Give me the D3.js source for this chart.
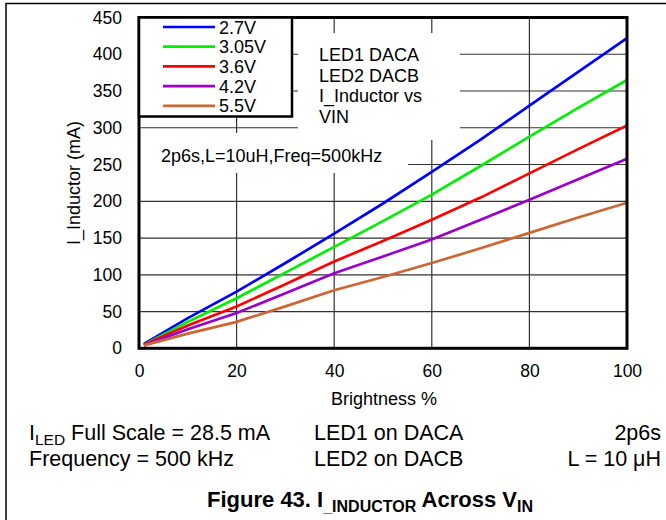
<!DOCTYPE html>
<html><head><meta charset="utf-8">
<script src="https://cdn.jsdelivr.net/npm/d3@7"></script>
<style>body{margin:0;background:#fff}svg{display:block}text{font-family:"Liberation Sans",Arial,sans-serif;fill:#000}</style>
</head><body><svg id="c" width="666" height="520"></svg>
<script>
const brightness = [1, 10, 20, 30, 40, 50, 60, 70, 80, 90, 100];
const seriesNames = ["2.7V", "3.05V", "3.6V", "4.2V", "5.5V"];
const seriesColors = ["#0000ff", "#00ee00", "#ff0000", "#9900cc", "#cc6633"];
const v27  = [6, 41, 77, 116, 156, 197, 240, 284, 330, 376, 422];
const v305 = [5, 36, 68, 103, 138, 173, 209, 248, 288, 327, 365];
const v36  = [5, 31, 57, 87, 118, 146, 175, 205, 238, 271, 303];
const v42  = [4, 26, 48, 75, 102, 125, 148, 175, 202, 230, 258];
const v55  = [4, 20, 36, 57, 79, 97, 116, 136, 157, 178, 198];
const seriesValues = [v27, v305, v36, v42, v55];
const xTicks = [0, 20, 40, 60, 80, 100];
const yTicks = [0, 50, 100, 150, 200, 250, 300, 350, 400, 450];

const svg = d3.select("#c");
const L = 139, R = 627, T = 17.5, B = 348.3;
const x = d3.scaleLinear().domain([0, 100]).range([L, R]);
const y = d3.scaleLinear().domain([0, 450]).range([B, T]);

// outer frame
svg.append("path").attr("d", "M6,520 L6,3.5 L666,3.5").attr("fill", "none").attr("stroke", "#000").attr("stroke-width", 1.5);

// grid
const g = svg.append("g");
g.selectAll(".gy").data(yTicks.slice(1, -1)).join("line")
  .attr("x1", L).attr("x2", R).attr("y1", d => y(d)).attr("y2", d => y(d))
  .attr("stroke", "#333").attr("stroke-width", 1.2);
g.selectAll(".gx").data(xTicks.slice(1, -1)).join("line")
  .attr("y1", T).attr("y2", B).attr("x1", d => x(d)).attr("x2", d => x(d))
  .attr("stroke", "#333").attr("stroke-width", 1.2);

// white annotation boxes hiding grid
svg.append("rect").attr("x", 298).attr("y", 33).attr("width", 162).attr("height", 107).attr("fill", "#fff");
svg.append("rect").attr("x", 140).attr("y", 133).attr("width", 268).attr("height", 40).attr("fill", "#fff");

const ann = ["LED1 DACA", "LED2 DACB", "I_Inductor vs", "VIN"];
svg.selectAll(".ann").data(ann).join("text")
  .attr("x", 319).attr("y", (d, i) => 61 + i * 20.7).attr("font-size", 18).text(d => d);
svg.append("text").attr("x", 161).attr("y", 162).attr("font-size", 18).text("2p6s,L=10uH,Freq=500kHz");

// lines
const line = d3.line().x((d, i) => x(brightness[i])).y(d => y(d));
svg.selectAll(".s").data(seriesValues).join("path")
  .attr("d", d => line(d)).attr("fill", "none")
  .attr("stroke", (d, i) => seriesColors[i]).attr("stroke-width", 2.7);

// plot frame
svg.append("rect").attr("x", L).attr("y", T).attr("width", R - L).attr("height", B - T)
  .attr("fill", "none").attr("stroke", "#000").attr("stroke-width", 3);

// axes
const ya = svg.append("g").attr("transform", `translate(${L},0)`)
  .call(d3.axisLeft(y).tickValues(yTicks).tickSize(0).tickPadding(17));
ya.select(".domain").remove();
ya.selectAll("text").attr("font-size", 17.5).attr("font-family", "Liberation Sans, Arial, sans-serif").attr("fill", "#000");
const xa = svg.append("g").attr("transform", `translate(0,${B})`)
  .call(d3.axisBottom(x).tickValues(xTicks).tickSize(0).tickPadding(16));
xa.select(".domain").remove();
xa.selectAll("text").attr("font-size", 17.5).attr("font-family", "Liberation Sans, Arial, sans-serif").attr("fill", "#000");

svg.append("text").attr("x", 384).attr("y", 405).attr("text-anchor", "middle").attr("font-size", 18).text("Brightness %");
svg.append("text").attr("transform", "translate(80,183) rotate(-90)").attr("text-anchor", "middle").attr("font-size", 18).text("I_Inductor (mA)");

// legend
const lg = svg.append("g");
lg.append("rect").attr("x", L).attr("y", T).attr("width", 153).attr("height", 99)
  .attr("fill", "#fff").attr("stroke", "#000").attr("stroke-width", 2.5);
const ly = [27, 46.7, 66.4, 86.1, 105.8];
seriesNames.forEach((n, i) => {
  lg.append("line").attr("x1", 163).attr("x2", 215).attr("y1", ly[i]).attr("y2", ly[i])
    .attr("stroke", seriesColors[i]).attr("stroke-width", 2.7);
  lg.append("text").attr("x", 219).attr("y", ly[i] + 6.5).attr("font-size", 18).text(n);
});

// bottom notes
const t1 = svg.append("text").attr("x", 29).attr("y", 440).attr("font-size", 21.5);
t1.append("tspan").text("I");
t1.append("tspan").attr("font-size", 15.5).attr("dy", 5).text("LED");
t1.append("tspan").attr("dy", -5).text(" Full Scale = 28.5 mA");
svg.append("text").attr("x", 29).attr("y", 466).attr("font-size", 21.5).text("Frequency = 500 kHz");
svg.append("text").attr("x", 314).attr("y", 440).attr("font-size", 21.5).text("LED1 on DACA");
svg.append("text").attr("x", 314).attr("y", 466).attr("font-size", 21.5).text("LED2 on DACB");
svg.append("text").attr("x", 661).attr("y", 440).attr("font-size", 21.5).attr("text-anchor", "end").text("2p6s");
svg.append("text").attr("x", 661).attr("y", 466).attr("font-size", 21.5).attr("text-anchor", "end").text("L = 10 μH");

const cap = svg.append("text").attr("x", 370).attr("y", 507).attr("font-size", 22).attr("font-weight", "bold").attr("text-anchor", "middle");
cap.append("tspan").text("Figure 43. I");
cap.append("tspan").attr("font-size", 16).attr("dy", 5).text("_INDUCTOR");
cap.append("tspan").attr("dy", -5).text(" Across V");
cap.append("tspan").attr("font-size", 16).attr("dy", 5).text("IN");
</script></body></html>
